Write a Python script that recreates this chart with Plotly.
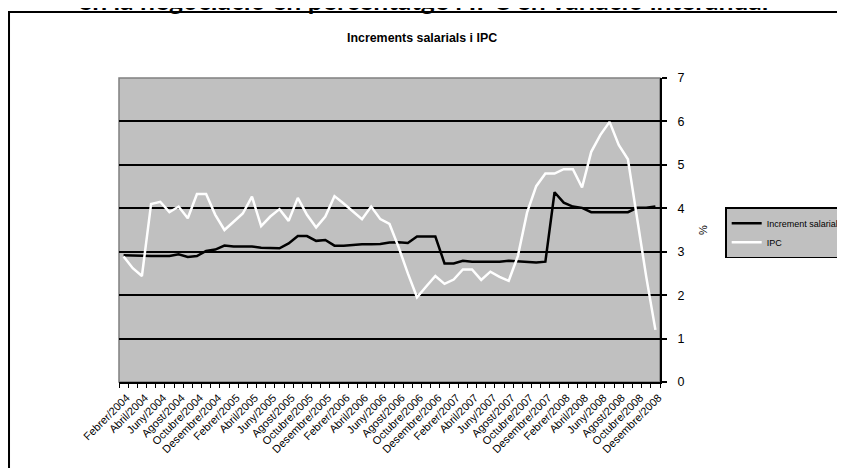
import plotly.graph_objects as go

month_names = ["Gener", "Febrer", "Març", "Abril", "Maig", "Juny", "Juliol",
               "Agost", "Setembre", "Octubre", "Novembre", "Desembre"]
years = [2004, 2005, 2006, 2007, 2008]
months = [f"{m}/{y}" for y in years for m in month_names][1:]  # Febrer/2004 .. Desembre/2008

increment_salarial = [
    2.92, 2.91, 2.90, 2.90, 2.90, 2.90, 2.94, 2.88, 2.90, 3.02, 3.05,
    3.14, 3.12, 3.12, 3.12, 3.09, 3.08, 3.08, 3.19, 3.36, 3.36, 3.25,
    3.27, 3.14, 3.14, 3.16, 3.17, 3.17, 3.18, 3.21, 3.22, 3.20, 3.35,
    3.35, 3.35, 2.73, 2.73, 2.79, 2.77, 2.77, 2.77, 2.77, 2.79, 2.78,
    2.77, 2.75, 2.77, 4.37, 4.13, 4.04, 4.01, 3.91, 3.91, 3.91, 3.91,
    3.91, 4.01, 4.01, 4.04,
]
ipc = [
    2.89, 2.62, 2.44, 4.10, 4.15, 3.91, 4.04, 3.77, 4.33, 4.33, 3.85,
    3.50, 3.69, 3.88, 4.27, 3.59, 3.81, 3.98, 3.71, 4.24, 3.85, 3.56,
    3.81, 4.28, 4.11, 3.92, 3.75, 4.04, 3.75, 3.64, 3.10, 2.50, 1.95,
    2.20, 2.44, 2.26, 2.36, 2.59, 2.59, 2.35, 2.54, 2.42, 2.33, 2.90,
    3.90, 4.51, 4.80, 4.80, 4.90, 4.90, 4.48, 5.30, 5.69, 5.99, 5.46,
    5.13, 3.75, 2.42, 1.20,
]
y_ticks = [0, 1, 2, 3, 4, 5, 6, 7]

xi = list(range(len(months)))
label_idx = xi[::2]

fig = go.Figure()
fig.add_trace(go.Scatter(x=xi, y=increment_salarial, mode="lines", name="Increment salarial",
                         line=dict(color="black", width=2.5)))
fig.add_trace(go.Scatter(x=xi, y=ipc, mode="lines", name="IPC",
                         line=dict(color="white", width=2.5)))

fig.update_layout(
    width=845, height=468,
    margin=dict(l=111, r=193, t=70, b=94, autoexpand=False),
    paper_bgcolor="white", plot_bgcolor="#C0C0C0",
    font=dict(family="Arial, Liberation Sans, sans-serif", color="black"),
    showlegend=True,
    legend=dict(x=1.1205, y=0.575, xanchor="left", yanchor="top",
                bgcolor="#C0C0C0", bordercolor="black", borderwidth=1.5,
                font=dict(size=9, family="Arial, Liberation Sans, sans-serif"),
                itemwidth=30, tracegroupgap=0),
    xaxis=dict(range=[-0.5, len(months) - 0.5], tickmode="array",
               tickvals=label_idx, ticktext=[months[i] for i in label_idx],
               tickangle=-45, ticks="", showgrid=False, zeroline=False,
               showline=True, linecolor="black", linewidth=2, automargin=False,
               tickfont=dict(size=11), ticklabelshift=3, ticklabelstandoff=3,
               minor=dict(tickmode="array", tickvals=[i - 0.5 for i in range(len(months) + 1)],
                          ticks="outside", ticklen=4, tickcolor="black", tickwidth=1.2,
                          showgrid=False)),
    yaxis=dict(range=[0, 7], side="right", tickmode="array", tickvals=y_ticks,
               ticks="outside", ticklen=5, tickcolor="black", tickwidth=1.5,
               showgrid=True, gridcolor="black", gridwidth=1.5, zeroline=False,
               showline=True, linecolor="black", linewidth=2, automargin=False,
               ticklabelstandoff=8,
               tickfont=dict(size=12.5),
               title=dict(text="%", font=dict(size=11), standoff=16)),
    shapes=[
        dict(type="rect", xref="paper", yref="paper", x0=0, x1=1, y0=0, y1=1,
             line=dict(color="#808080", width=1.5), layer="below"),
        dict(type="rect", xref="paper", yref="paper", x0=-0.2033, x1=1.6,
             y0=-0.6, y1=1.217, line=dict(color="black", width=2)),
    ],
    annotations=[
        dict(text="<b>Increments salarials i IPC</b>", xref="paper", yref="paper",
             x=0.5605, y=1.13, xanchor="center", yanchor="middle", showarrow=False,
             font=dict(size=12.4)),
        dict(text="<b>en la negociació en percentatge i IPC en variació interanual</b>",
             xref="paper", yref="paper", x=0.562, y=1.199, xanchor="center",
             yanchor="bottom", showarrow=False,
             font=dict(size=26.5, family="Lato, Open Sans, sans-serif")),
    ],
)

fig.write_html("out.html")
